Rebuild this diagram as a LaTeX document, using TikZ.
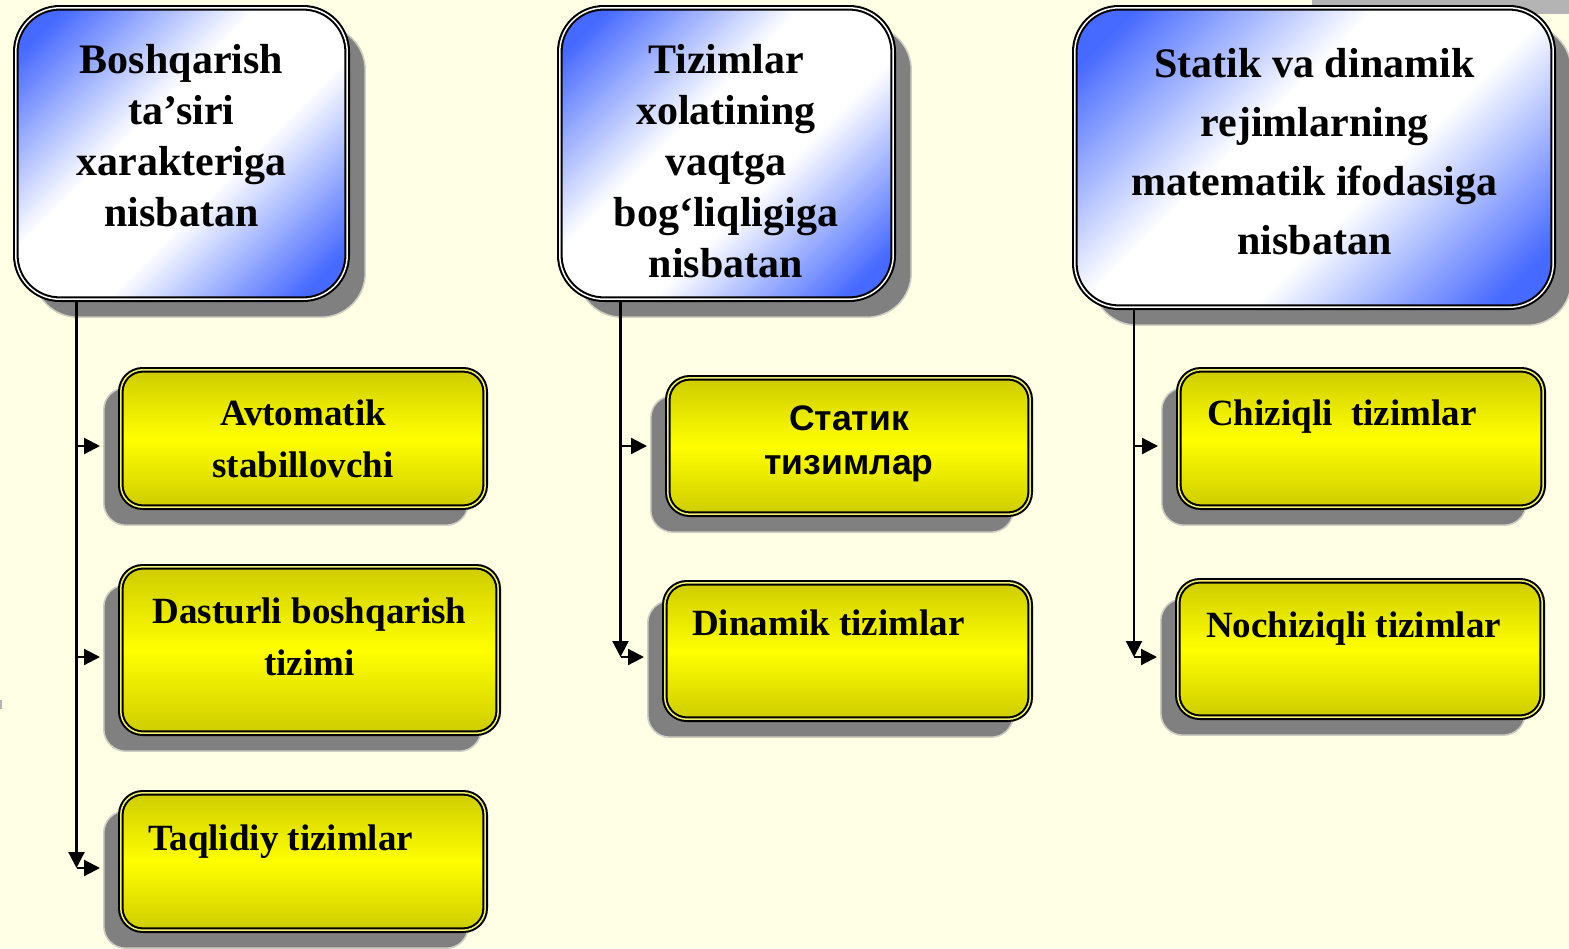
\documentclass[tikz,border=0pt]{standalone}
\usepackage{fontspec}
\setmainfont{Liberation Serif}
\newfontfamily\cyrsans{Liberation Sans}
\usetikzlibrary{shadows,arrows.meta,calc}
\definecolor{bgc}{RGB}{255,255,229}
\definecolor{bbl}{RGB}{70,105,255}
\definecolor{yd}{RGB}{206,204,0}
\definecolor{yb}{RGB}{255,255,0}
\definecolor{ymid}{RGB}{240,240,110}
\definecolor{shd}{RGB}{128,128,128}
\definecolor{shdedge}{RGB}{205,205,195}
\definecolor{strip}{RGB}{180,180,180}
\pgfdeclareverticalshading{bluediag}{100bp}{color(0bp)=(bbl); color(20bp)=(bbl); color(42bp)=(white); color(58bp)=(white); color(80bp)=(bbl); color(100bp)=(bbl)}
\tikzset{
  boxbase/.style={rectangle, inner sep=0pt, draw=black, line width=5.6pt},
  bluebox/.style={boxbase, rounded corners=44pt, shading=bluediag, shading angle=45,
    postaction={draw=white, line width=1.5pt},
    general shadow={shadow xshift=18pt, shadow yshift=-18pt, fill=shd, draw=shdedge, line width=1.5pt}},
  yelbox/.style={boxbase, rounded corners=22pt, top color=yd, bottom color=yd, middle color=yb,
    postaction={draw=ymid, line width=1.5pt},
    general shadow={shadow xshift=-17pt, shadow yshift=-18pt, fill=shd, draw=shdedge, line width=1.5pt}},
  bluetext/.style={anchor=base, align=center, inner sep=0pt, font=\fontsize{42}{51}\selectfont\bfseries},
  ytext/.style={anchor=base, align=center, inner sep=0pt, font=\fontsize{37}{52}\selectfont\bfseries},
  ytextl/.style={anchor=base west, inner sep=0pt, font=\fontsize{37}{52}\selectfont\bfseries},
  ctext/.style={anchor=base, align=center, inner sep=0pt, font=\cyrsans\bfseries\fontsize{35.5}{44}\selectfont},
  conn/.style={draw=black, line width=2.2pt},
  arr/.style={conn, -{Triangle[length=16pt,width=16pt]}},
  brarr/.style={arr, shorten >=18pt}
}
\begin{document}
\begin{tikzpicture}[x=1pt,y=-1pt]
\fill[bgc] (0,0) rectangle (1569,948);
\useasboundingbox (0,0) rectangle (1569,948);
\fill[strip] (1312,0) rectangle (1569,14);
\fill[strip] (0,700) rectangle (2,709);

% top boxes
\node[bluebox, minimum width=331.4pt, minimum height=291.4pt] (b1) at (181.5,153.5) {};
\node[bluebox, minimum width=333.4pt, minimum height=291.4pt] (b2) at (726.5,153.5) {};
\node[bluebox, minimum width=478.4pt, minimum height=299.4pt] (b3) at (1314,157.5) {};
\node[bluetext] (t1) at (181.5,226) {Boshqarish\\ta’siri\\xarakteriga\\nisbatan};
\node[bluetext] (t2) at (726,277) {Tizimlar\\xolatining\\vaqtga\\bog‘liqligiga\\nisbatan};
\node[bluetext, font=\fontsize{42}{59}\selectfont\bfseries] (t3) at (1314.5,254) {Statik va dinamik\\rejimlarning\\matematik ifodasiga\\nisbatan};

% yellow boxes
\node[yelbox, minimum width=364.4pt, minimum height=137.4pt] (y1) at (303,438.5) {};
\node[yelbox, minimum width=377.4pt, minimum height=166.4pt] (y2) at (309.5,650) {};
\node[yelbox, minimum width=364.4pt, minimum height=137.4pt] (y3) at (303,861.5) {};
\node[yelbox, minimum width=362.4pt, minimum height=136.4pt] (y4) at (849,446) {};
\node[yelbox, minimum width=365.4pt, minimum height=136.4pt] (y5) at (847.5,651) {};
\node[yelbox, minimum width=364.4pt, minimum height=137.4pt] (y6) at (1361,438.5) {};
\node[yelbox, minimum width=364.4pt, minimum height=136.4pt] (y7) at (1360,649) {};

\node[ytext] (u1) at (303,477) {Avtomatik\\stabillovchi};
\node[ytext] (u2) at (309.5,675) {Dasturli boshqarish\\tizimi};
\node[ytextl] (u3) at (148,850) {Taqlidiy tizimlar};
\node[ctext] (u4) at (849,474) {Статик\\тизимлар};
\node[ytextl] (u5) at (692,635) {Dinamik tizimlar};
\node[ytextl] (u6) at (1207,425) {Chiziqli~~tizimlar};
\node[ytextl] (u7) at (1206,637) {Nochiziqli tizimlar};

% connectors column 1
\coordinate (k1) at (76.5,868);
\coordinate (j11) at (76.5,446);
\coordinate (j12) at (76.5,657);
\draw[arr] (b1.south -| k1) -- (k1);
\draw[brarr] (j11) -- (j11 -| y1.west);
\draw[brarr] (j12) -- (j12 -| y2.west);
\draw[brarr] (k1) -- (k1 -| y3.west);

% column 2
\coordinate (k2) at (620.5,657);
\coordinate (j21) at (620.5,446);
\draw[arr] (b2.south -| k2) -- (k2);
\draw[brarr] (j21) -- (j21 -| y4.west);
\draw[brarr] (k2) -- (k2 -| y5.west);

% column 3
\coordinate (k3) at (1134,657);
\coordinate (j31) at (1134,446);
\draw[arr] (b3.south -| k3) -- (k3);
\draw[brarr] (j31) -- (j31 -| y6.west);
\draw[brarr] (k3) -- (k3 -| y7.west);
\end{tikzpicture}
\end{document}
